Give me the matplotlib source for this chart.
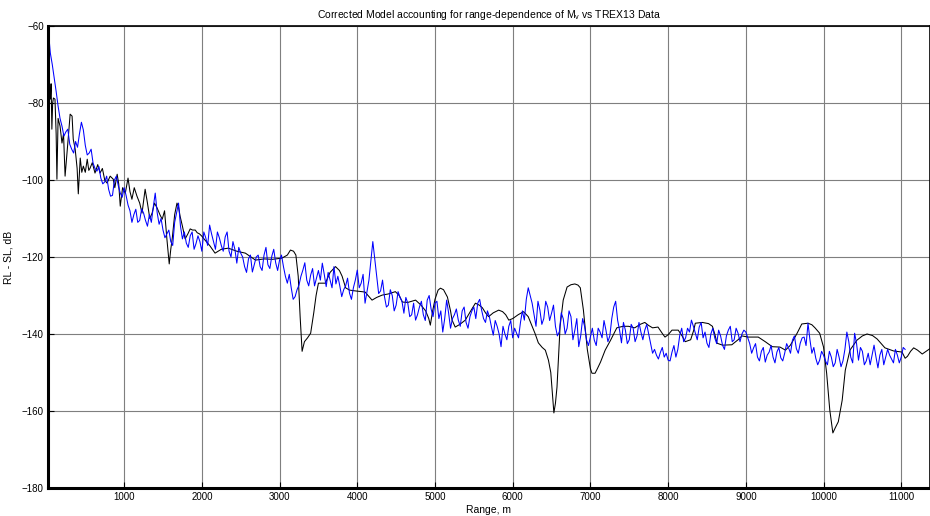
#import libraries
import numpy as np
import matplotlib
matplotlib.use("Agg")
import matplotlib.pyplot as plt

plt.rcParams['font.family'] = ['Liberation Sans', 'DejaVu Sans']

#model curve (black): range in m, level in dB
model_range = [20, 35, 50, 60, 70, 80, 90, 110, 125, 135, 150, 175, 200, 220, 240, 265, 285, 305, 330, 345,
               370, 395, 410, 435, 455, 475, 500, 525, 545, 560, 590, 625, 660, 690, 720, 750, 780, 820, 860, 880,
               910, 930, 950, 980, 1015, 1050, 1075, 1100, 1130, 1165, 1200, 1230, 1270, 1300, 1330, 1360, 1390, 1425, 1460, 1490,
               1520, 1550, 1580, 1600, 1620, 1650, 1680, 1700, 1720, 1750, 1785, 1820, 1850, 1880, 1915, 1940, 1970, 2000, 2040, 2100,
               2170, 2250, 2340, 2450, 2560, 2690, 2800, 2910, 3030, 3100, 3140, 3180, 3210, 3240, 3265, 3290, 3320, 3360, 3400, 3440,
               3470, 3500, 3590, 3650, 3720, 3770, 3805, 3850, 3900, 3970, 4100, 4190, 4250, 4320, 4400, 4490, 4540, 4580, 4650, 4750,
               4820, 4880, 4920, 4940, 4970, 5000, 5040, 5070, 5110, 5160, 5200, 5220, 5260, 5320, 5390, 5460, 5520, 5570, 5610, 5650,
               5690, 5750, 5820, 5870, 5910, 5950, 6000, 6070, 6140, 6200, 6250, 6290, 6330, 6380, 6420, 6460, 6490, 6510, 6530, 6550,
               6570, 6590, 6610, 6650, 6700, 6750, 6800, 6840, 6870, 6910, 6960, 7000, 7020, 7060, 7090, 7130, 7190, 7260, 7340, 7420,
               7490, 7570, 7640, 7700, 7750, 7800, 7870, 7930, 7960, 8000, 8050, 8130, 8180, 8220, 8290, 8330, 8350, 8440, 8520, 8570,
               8600, 8630, 8700, 8820, 8900, 8950, 9030, 9160, 9250, 9340, 9440, 9510, 9570, 9600, 9660, 9720, 9800, 9850, 9890, 9950,
               10000, 10040, 10080, 10120, 10150, 10190, 10240, 10280, 10340, 10430, 10500, 10560, 10630, 10690, 10790, 10900, 11010, 11050, 11080, 11120,
               11160, 11210, 11270, 11340, 11370]
model_db = [-73, -76, -79, -75, -86.8, -80, -78.7, -79, -88, -99.8, -84, -86, -90.4, -88, -99, -93, -88, -82.9, -83.4, -89.4,
            -92, -97, -103.6, -94.3, -98, -96.4, -98, -94.6, -97.5, -97, -95.5, -98.2, -96, -98.2, -97, -100, -100.8, -99, -99.8, -102,
            -98.5, -101, -106.8, -102, -103.4, -99.5, -103, -105, -102, -104.2, -106, -108.6, -102.4, -106, -110, -108.6, -106, -107.3, -109, -110.2,
            -108, -115.3, -121.8, -118, -115, -109, -106, -107, -109.4, -112, -115.3, -114, -112.7, -113, -113, -113.7, -114, -114.6, -115.6, -117,
            -119, -118, -117.7, -118.5, -119, -120.8, -120.5, -120.6, -120.3, -119.5, -118.2, -118.5, -119.5, -125, -135.6, -144.5, -142, -141, -139.8, -134.5,
            -130, -126.8, -126.8, -124, -122.5, -123.5, -125, -128, -128.6, -128.8, -129.1, -131.2, -130.5, -129.9, -129.6, -129, -130, -131.7, -131.8, -131.2,
            -132.5, -134, -136, -137.7, -134, -131, -128.6, -128.1, -128.5, -130.4, -134, -136.4, -138.2, -137.5, -136.4, -134, -132, -132.5, -133.2, -134.5,
            -135.5, -134.5, -133.8, -134.2, -135, -136.4, -136, -135, -134.2, -135.5, -138, -140, -142.3, -143.5, -144.2, -146.8, -150, -155.4, -160.5, -158,
            -153.8, -146, -138, -131.2, -127.8, -127.2, -127, -127.3, -128, -133.8, -144, -149, -150.2, -150.2, -149, -147.3, -144.2, -141.6, -138.4, -138,
            -138, -138.4, -137.5, -137, -137.8, -138.4, -138.2, -140, -140.8, -140.2, -139, -139, -140.5, -142, -141.5, -139, -137.2, -137, -137.3, -138,
            -140, -142.4, -142.9, -142.8, -141.5, -140.5, -140.8, -140.8, -142, -143.3, -143.4, -144.2, -143, -142, -139.8, -137.4, -137.2, -137.6, -138.4, -139.8,
            -143.4, -150.2, -159.7, -165.7, -164.4, -162.8, -157.2, -149.4, -144.2, -141.6, -140.5, -140, -140.4, -141.3, -143.6, -144.4, -144.7, -146.3, -145.8, -144.5,
            -143.6, -144.2, -145.2, -144.2, -143.8]

#TREX13 data (blue), first point at 20 m then every 50 m from 50 m to 11050 m
data_db = [-60,
           -67, -73.5, -80.8, -86, -87.5, -90.7, -93, -91.5, -85, -91, -93, -95.6, -97.7, -99.5, -100.5, -102.4, -104, -99, -103.4, -102,
           -106.5, -111, -107.6, -110.5, -108.6, -112, -111, -103.4, -111.5, -113, -114, -116, -111, -106, -115.3, -116.4, -114.5, -118, -114.5, -118.5,
           -115, -111.7, -116, -113.5, -117, -114.8, -118.5, -116, -121.6, -119, -122.5, -120.5, -123.9, -120, -122.5, -119.5, -122, -119.8, -121.5, -120.8,
           -122.5, -126.8, -128, -130.3, -127.3, -123.4, -126, -124.7, -127.5, -123.5, -121.6, -127.7, -126, -122.5, -125, -130.3, -127.5, -129.4, -128, -123.4,
           -126.8, -132, -126, -116, -125, -128.8, -130.3, -132.5, -130, -132.5, -130.5, -134.6, -132, -135, -136.4, -133, -135, -131.2, -133.5, -132,
           -136, -139.5, -131.2, -138.5, -135, -136.4, -134, -137, -135.5, -133, -132, -133.8, -137, -135.5, -140.3, -138, -143.3, -140, -138, -141,
           -139.8, -137, -136.4, -128, -132, -138, -133.8, -136, -133, -134.6, -138, -139.4, -136, -138.5, -135.5, -139, -143.3, -136, -141.5, -140.8,
           -141.6, -138.5, -141, -139, -140.5, -133, -136.4, -142.3, -139, -141.5, -138.5, -140.5, -139.5, -139, -140, -145, -145.5, -144.8, -146, -146.8,
           -144.7, -146, -140.3, -142, -138.5, -136.4, -139.8, -138.2, -141, -142.4, -140, -141, -139, -142.9, -140.5, -138, -141.5, -139.8, -140, -139.5,
           -142.5, -143.6, -146, -144.5, -147.3, -144.7, -146, -144.7, -146.2, -145, -143.6, -141.6, -143.8, -142.4, -140.8, -137.2, -145, -146.3, -146.8, -145.5,
           -148, -146, -147.5, -146, -147, -139.5, -146, -139.8, -146.8, -144.5, -147, -148, -142.9, -148.8, -144, -146, -145.5, -147.5, -145.5, -146,
           -144]
#in-between samples of the data, every 50 m from 75 m to 11025 m
data_mid_db = [-70, -77, -84, -88.6, -86.8, -92, -90, -88, -87, -93.5, -92, -97, -96.5, -101, -99, -104.2, -100, -101.5, -104.5, -104,
               -108, -109, -111, -107.5, -110.5, -109, -107, -108.5, -110, -115, -113, -117, -108.5, -112, -113.5, -117.5, -113.5, -116.5, -116,
               -113.5, -117, -114, -118, -115, -118.5, -113.5, -120, -118, -117.5, -120, -124, -119.5, -122, -119.5, -123.5, -117.5, -123, -118, -123.5,
               -119.5, -125, -124.5, -131, -128.5, -125, -121.5, -127.5, -123, -125.5, -126, -124.5, -124, -128, -127, -127.5, -128.5, -125.5, -131, -126,
               -128, -124.5, -129, -121, -120.5, -129.5, -126, -133, -128.5, -134, -129, -131.5, -130.5, -135.5, -132, -135, -131.5, -136.5, -130, -135.5,
               -131.5, -134, -136, -134.5, -136, -133.5, -138, -133, -138.5, -134, -136, -131, -136, -134, -138, -136.5, -140, -138, -141.5, -136.5,
               -138.5, -141, -134, -131, -130, -135, -131.5, -137.5, -131.5, -136.5, -132.5, -140.5, -134.5, -140, -134, -141.5, -136, -140.5, -138, -143,
               -138.5, -143, -139.5, -136.5, -142, -136, -131.5, -139, -137, -142.5, -137.5, -142, -137, -141.5, -137.5, -142.5, -144, -146.5, -143.5, -145,
               -147, -143, -144, -138.5, -141, -139.5, -138, -141.5, -137, -139.5, -143.5, -138.5, -142.5, -140.5, -144, -139, -142, -138.5, -142, -139,
               -141, -145, -142.5, -147, -143.5, -145.5, -143, -147.5, -143.5, -147, -142.5, -145, -140.5, -145, -141, -143, -141.5, -143.5, -148, -144.5,
               -147, -144.5, -148.5, -144, -148.5, -144, -142, -147.5, -142.5, -143.5, -148, -145, -145.5, -146, -145.5, -148, -144, -146.5, -144, -147.5,
               -143.5]
assert len(model_range) == len(model_db), (len(model_range), len(model_db))
assert len(data_db) == 222, len(data_db)
assert len(data_mid_db) == 220, len(data_mid_db)

data_range = np.concatenate([[20], np.arange(50, 11051, 50), np.arange(75, 11026, 50)])
data_all = np.concatenate([data_db, data_mid_db])
order = np.argsort(data_range)

x_ticks = [1000, 2000, 3000, 4000, 5000, 6000, 7000, 8000, 9000, 10000, 11000]
y_ticks = [-180, -160, -140, -120, -100, -80, -60]

#figure laid out like the MATLAB export
fig = plt.figure(figsize=(9.3, 5.16), dpi=100)
ax = fig.add_axes([0.0516, 0.0543, 0.9484, 0.8953])

ax.plot(model_range, model_db, color='black', lw=0.75)
ax.plot(data_range[order], data_all[order], color='#0000ff', lw=0.75)

ax.set_xlim(20, 11370)
ax.set_ylim(-180, -60)
ax.set_xticks(x_ticks)
ax.set_yticks(y_ticks)
ax.grid(True, color='#7f7f7f', lw=0.8, ls='-')
ax.set_axisbelow(True)
ax.tick_params(direction='in', length=4, labelsize=7, pad=3)
for s in ['left', 'bottom']:
    ax.spines[s].set_linewidth(2.2)
for s in ['top', 'right']:
    ax.spines[s].set_linewidth(1.2)

ax.set_title(r'Corrected Model accounting for range-dependence of M$_\mathregular{v}$ vs TREX13 Data',
             fontsize=7.5, pad=6)
ax.set_xlabel('Range, m', fontsize=7.5, labelpad=2)
ax.set_ylabel('RL - SL, dB', fontsize=7.5, labelpad=6)

plt.savefig('out.png', dpi=100)
